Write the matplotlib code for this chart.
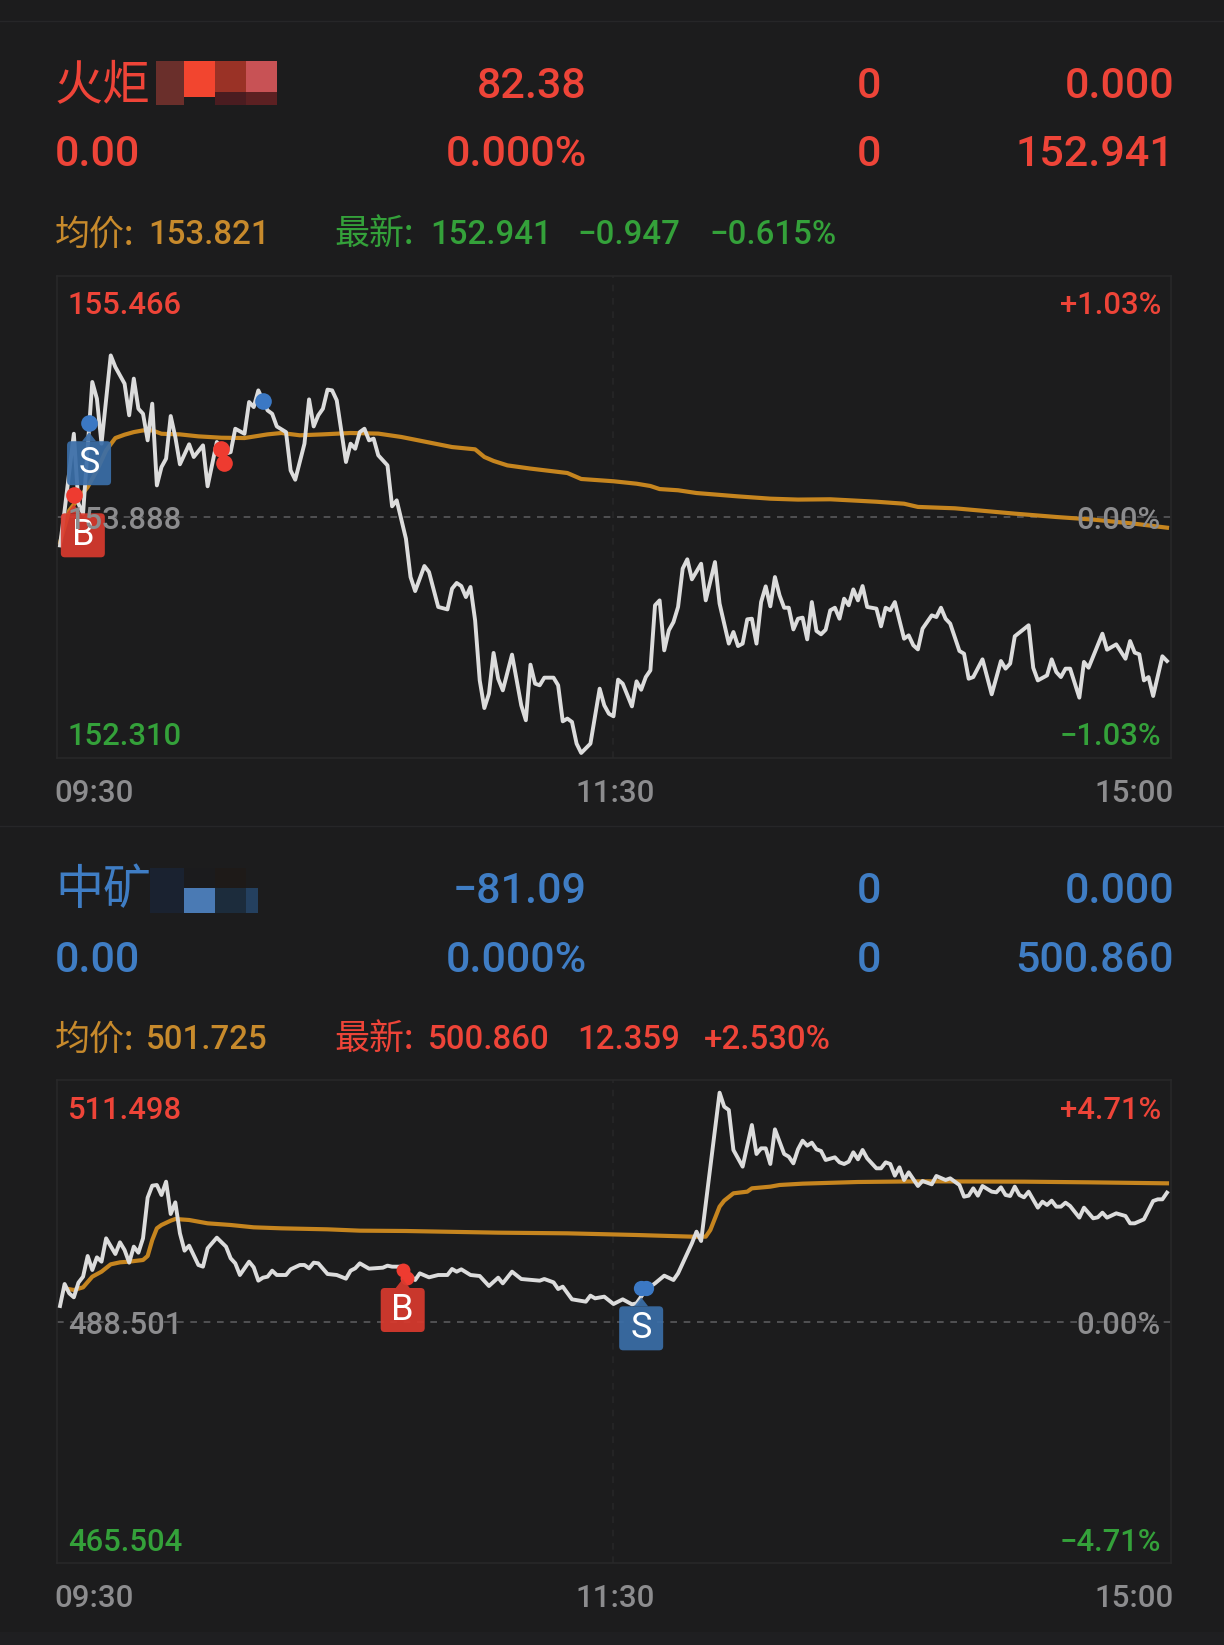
import matplotlib
matplotlib.use("Agg")
import matplotlib.pyplot as plt
from matplotlib.patches import FancyBboxPatch, Polygon, Rectangle
from matplotlib.transforms import Affine2D, IdentityTransform

W, H = 1224, 1645
plt.rcParams['font.family'] = ['Roboto', 'Noto Sans CJK SC', 'DejaVu Sans']

BG = '#1c1c1d'
RED = '#ee4438'
BLUE = '#3f7dc4'
GREEN = '#34a13a'
GOLD = '#c78a2c'
GRAY = '#8c8c8e'

# upper chart, minutes after 09:30 and prices
t1 = [0, 1, 3, 4, 5, 7, 8, 9, 11, 12, 14, 15, 16, 17, 18, 19, 20, 21, 22, 23, 24, 25, 26, 28, 29, 31, 32, 34, 36, 37,
      38, 40, 41, 42, 43, 45, 46, 47, 49, 50, 51, 53, 54, 55, 56, 57, 58, 59, 60, 62, 63, 64, 65, 66, 67, 68, 69, 71,
      72, 73, 75, 76, 77, 79, 80, 82, 84, 85, 86, 87, 88, 89, 90, 91, 92, 93, 94, 95, 96, 98, 100, 101, 102, 103, 104,
      105, 107, 108, 109, 110, 111, 112, 113, 115, 117, 118, 119, 120, 121, 122, 124, 125, 126, 127, 128, 129, 130,
      131, 132, 133, 134, 135, 136, 137, 139, 140, 142, 143, 145, 146, 147, 148, 149, 150, 151, 152, 153, 154, 155,
      156, 157, 158, 159, 160, 161, 162, 163, 164, 165, 166, 167, 168, 169, 170, 171, 172, 173, 174, 175, 177, 178,
      179, 180, 181, 183, 184, 185, 186, 187, 189, 190, 191, 192, 193, 195, 196, 197, 198, 200, 202, 204, 205, 206,
      207, 210, 211, 212, 214, 215, 216, 217, 218, 219, 221, 222, 223, 226, 227, 229, 231, 232, 233, 234, 235, 236,
      237, 239, 240]
p1 = [153.702, 153.931, 154.433, 153.975, 153.910, 154.772, 154.663, 154.368, 154.946, 154.870, 154.761, 154.554,
      154.794, 154.597, 154.564, 154.390, 154.630, 154.095, 154.215, 154.270, 154.549, 154.412, 154.233, 154.364,
      154.281, 154.357, 154.089, 154.379, 154.303, 154.313, 154.466, 154.433, 154.641, 154.608, 154.717, 154.586,
      154.564, 154.481, 154.444, 154.193, 154.132, 154.368, 154.658, 154.481, 154.554, 154.597, 154.722, 154.717,
      154.652, 154.248, 154.368, 154.335, 154.444, 154.466, 154.390, 154.401, 154.292, 154.226, 153.958, 153.997,
      153.746, 153.495, 153.403, 153.567, 153.528, 153.299, 153.283, 153.419, 153.456, 153.436, 153.364, 153.430,
      153.211, 152.818, 152.637, 152.731, 152.998, 152.829, 152.753, 152.987, 152.655, 152.557, 152.921, 152.797,
      152.786, 152.836, 152.836, 152.786, 152.550, 152.568, 152.546, 152.404, 152.343, 152.404, 152.764, 152.655,
      152.600, 152.583, 152.823, 152.797, 152.648, 152.812, 152.757, 152.840, 152.884, 153.310, 153.342, 153.015,
      153.146, 153.200, 153.299, 153.550, 153.611, 153.480, 153.582, 153.342, 153.593, 153.321, 153.059, 153.135,
      153.043, 153.059, 153.218, 153.222, 153.059, 153.331, 153.434, 153.303, 153.495, 153.375, 153.294, 153.294,
      153.152, 153.222, 153.229, 153.087, 153.331, 153.142, 153.120, 153.150, 153.277, 153.294, 153.222, 153.353,
      153.310, 153.414, 153.342, 153.436, 153.299, 153.288, 153.172, 153.294, 153.277, 153.331, 153.091, 153.113,
      153.048, 153.021, 153.157, 153.244, 153.233, 153.294, 153.222, 153.190, 153.011, 152.993, 152.829, 152.840,
      152.956, 152.727, 152.945, 152.895, 152.928, 153.107, 153.179, 152.901, 152.818, 152.851, 152.956, 152.873,
      152.840, 152.895, 152.895, 152.705, 152.939, 152.901, 153.124, 153.019, 153.054, 152.960, 153.076, 153.000,
      152.989, 152.818, 152.840, 152.716, 152.976, 152.945]

avg_t1 = [0, 2, 6, 8, 10, 12, 14, 16, 18, 20, 22, 26, 30, 35, 40, 45, 48, 52, 57, 63, 69, 74, 77, 85, 90, 92, 94, 97,
          102, 110, 113, 120, 125, 128, 130, 134, 138, 147, 154, 160, 167, 177, 183, 186, 194, 207, 216, 224, 233, 240]
avg_p1 = [153.720, 153.931, 154.084, 154.193, 154.324, 154.405, 154.427, 154.444, 154.455, 154.455, 154.433, 154.429,
          154.416, 154.407, 154.405, 154.429, 154.438, 154.423, 154.429, 154.438, 154.434, 154.412, 154.394, 154.346,
          154.331, 154.281, 154.255, 154.226, 154.205, 154.176, 154.137, 154.122, 154.106, 154.091, 154.071, 154.063,
          154.045, 154.023, 154.008, 154.002, 154.004, 153.988, 153.975, 153.954, 153.945, 153.910, 153.888, 153.871,
          153.844, 153.818]

# lower chart
t2 = [0, 1, 2, 3, 4, 5, 6, 7, 8, 9, 10, 12, 13, 14, 15, 16, 17, 18, 19, 20, 21, 22, 23, 24, 25, 26, 27, 28, 30, 31, 32,
      34, 36, 37, 38, 39, 41, 42, 43, 44, 45, 46, 47, 49, 50, 52, 53, 54, 55, 56, 58, 60, 62, 63, 64, 65, 67, 70, 71,
      72, 74, 77, 78, 80, 82, 84, 85, 86, 87, 89, 91, 93, 95, 96, 98, 100, 104, 105, 107, 108, 109, 111, 114, 115, 116,
      118, 120, 122, 124, 125, 127, 129, 131, 133, 134, 137, 138, 139, 143, 144, 145, 146, 148, 150, 151, 152, 153,
      154, 155, 157, 158, 159, 160, 161, 162, 163, 164, 165, 166, 168, 169, 170, 171, 172, 173, 174, 175, 177, 178,
      179, 180, 181, 182, 183, 184, 186, 187, 189, 190, 192, 193, 195, 196, 197, 198, 199, 200, 202, 203, 204, 205,
      206, 207, 208, 209, 210, 212, 213, 214, 215, 216, 217, 218, 219, 221, 222, 224, 225, 226, 227, 229, 231, 232,
      233, 235, 237, 238, 239, 240]
p2 = [489.977, 492.072, 491.184, 490.803, 492.199, 492.770, 494.739, 493.406, 494.612, 494.199, 496.421, 494.929,
      496.040, 495.310, 494.104, 495.628, 495.056, 496.421, 500.294, 501.436, 501.500, 500.548, 501.817, 498.738,
      499.849, 496.897, 495.247, 495.723, 493.882, 493.723, 495.469, 496.485, 495.628, 494.517, 494.041, 492.929,
      494.199, 493.659, 492.390, 492.675, 492.770, 493.342, 492.929, 492.929, 493.469, 493.882, 493.882, 493.564,
      494.104, 494.041, 493.024, 492.929, 492.580, 493.342, 493.564, 494.041, 493.532, 493.627, 493.818, 493.723,
      493.720, 492.453, 493.087, 492.707, 492.929, 492.929, 493.500, 493.246, 493.468, 492.929, 492.834, 491.881,
      492.675, 492.135, 493.246, 492.548, 492.389, 492.548, 492.230, 491.596, 491.817, 490.612, 490.389, 490.961,
      490.707, 490.866, 490.167, 490.612, 490.135, 490.231, 491.501, 492.135, 492.865, 492.453, 493.087, 495.945,
      497.056, 496.167, 510.293, 508.960, 508.642, 504.833, 503.246, 507.214, 504.452, 504.992, 504.992, 503.500,
      506.801, 504.452, 504.198, 503.563, 504.896, 505.722, 505.246, 505.531, 504.896, 504.738, 503.881, 504.135,
      503.658, 503.500, 503.722, 504.611, 503.944, 504.833, 504.039, 503.087, 503.087, 503.658, 503.500, 502.389,
      503.182, 501.976, 502.706, 501.405, 501.881, 501.563, 502.357, 501.976, 502.135, 501.500, 500.389, 500.484,
      501.182, 500.484, 501.405, 500.865, 500.802, 501.278, 500.548, 500.453, 501.341, 500.548, 500.325, 500.865,
      499.341, 499.913, 499.595, 500.008, 499.437, 499.437, 499.818, 499.500, 498.389, 499.341, 498.326, 498.421,
      498.865, 498.389, 498.802, 498.548, 497.849, 497.849, 498.230, 499.976, 500.135, 500.135, 500.770]

avg_t2 = [1, 3, 5, 7, 9, 11, 13, 15, 18, 19, 20, 21, 22, 24, 25, 28, 32, 37, 42, 48, 58, 65, 75, 95, 110, 125, 137,
          140, 141, 143, 144, 146, 149, 150, 154, 156, 161, 173, 187, 209, 223, 240]
avg_p2 = [491.660, 491.501, 491.755, 492.770, 493.247, 493.945, 494.136, 494.199, 494.358, 494.739, 496.262, 497.373,
          497.691, 498.104, 498.262, 498.167, 497.850, 497.691, 497.469, 497.373, 497.278, 497.151, 497.119, 496.960,
          496.897, 496.738, 496.580, 496.580, 497.214, 499.437, 500.008, 500.707, 500.865, 501.182, 501.341, 501.500,
          501.627, 501.786, 501.849, 501.817, 501.754, 501.659]

range1 = [152.310, 153.888, 155.466]
range2 = [465.504, 488.501, 511.498]
time_labels = ['09:30', '11:30', '15:00']

# trade marks: minute, price
buy1 = [(3, 154.030), (35, 154.331), (35.6, 154.240)]
sell1 = [(6.3, 154.502), (44, 154.646)]
buy2 = [(74.3, 493.405), (75.3, 492.610)]
sell2 = [(126, 491.660), (127, 491.660)]


def txt(x, yc, s, color, px_size, ha='left'):
    # yc is the middle of the digits in image pixels, digits have some side bearing
    base = yc + 0.355 * px_size
    x = x + 2 if ha == 'right' else x - 2
    return fig.text(x / W, 1 - base / H, s, color=color, fontsize=px_size * 0.72, ha=ha, va='baseline',
                    fontweight='medium')


def box(x0, y0, x1, y1, color):
    fig.add_artist(Rectangle((x0 / W, 1 - y1 / H), (x1 - x0) / W, (y1 - y0) / H, fc=color, ec='none',
                             transform=fig.transFigure))


def tag(ax, minute, price, letter, color, shift=0):
    x, y = ax.transData.transform((minute, price))
    cx = x + shift
    top = y - 18
    ax.add_patch(Polygon([(x - 7, top), (x + 7, top), (x, top + 9)], closed=True, fc=color, ec='none', alpha=0.92,
                         transform=IdentityTransform(), zorder=5, clip_on=False))
    ax.add_patch(FancyBboxPatch((cx - 20, top - 42), 40, 40, boxstyle='round,pad=2,rounding_size=4', fc=color,
                                ec='none', alpha=0.92, transform=IdentityTransform(), zorder=5, clip_on=False))
    ax.text(cx, top - 22, letter, color='white', fontsize=26, ha='center', va='center', zorder=6,
            transform=IdentityTransform())


def panel(top, bottom, t, p, avg_t, avg_p, prng):
    ax = fig.add_axes([57 / W, 1 - bottom / H, (1171 - 57) / W, (bottom - top) / H])
    ax.set_facecolor(BG)
    ax.set_xlim(-0.65, 240.87)
    ax.set_ylim(prng[0], prng[2])
    for s in ax.spines.values():
        s.set_color('#282829')
        s.set_linewidth(1.2)
    ax.set_yticks([])
    ax.set_xticks([-0.65, 120, 240.87])
    ax.set_xticklabels(time_labels, color=GRAY, fontsize=22.5, fontweight='medium')
    ax.tick_params(axis='x', length=0, pad=15)
    labs = ax.get_xticklabels()
    labs[0].set_ha('left')
    labs[2].set_ha('right')
    for lab, dx in zip(labs, (-3, 2, 3)):
        lab.set_transform(lab.get_transform() + Affine2D().translate(dx, 0))
    ax.axhline(prng[1], color='#5a5a5c', lw=1.2, ls=(0, (4, 4)), zorder=1)
    ax.axvline(120, color='#262627', lw=1.2, ls=(0, (4, 4)), zorder=1)
    ax.plot(avg_t, avg_p, color='#c6851f', lw=3, zorder=2, solid_joinstyle='round')
    ax.plot(t, p, color='#dcdcdc', lw=2.8, zorder=3, solid_joinstyle='round')
    return ax


fig = plt.figure(figsize=(W / 100, H / 100), dpi=100, facecolor=BG)

# header rows of upper chart
txt(57, 83, '火炬', RED, 48)
txt(585, 83, '82.38', RED, 43, 'right')
txt(879, 83, '0', RED, 43, 'right')
txt(1172, 83, '0.000', RED, 43, 'right')
txt(57, 151, '0.00', RED, 43)
txt(585, 151, '0.000%', RED, 43, 'right')
txt(879, 151, '0', RED, 43, 'right')
txt(1172, 151, '152.941', RED, 43, 'right')
txt(57, 232, '均价:', GOLD, 35)
txt(150, 232, '153.821', GOLD, 33)
txt(336, 232, '最新:', GREEN, 35)
txt(432, 232, '152.941', GREEN, 33)
txt(579, 232, '−0.947', GREEN, 33)
txt(711, 232, '−0.615%', GREEN, 33)

# header rows of lower chart
txt(57, 887, '中矿', BLUE, 48)
txt(585, 888, '−81.09', BLUE, 43, 'right')
txt(879, 888, '0', BLUE, 43, 'right')
txt(1172, 888, '0.000', BLUE, 43, 'right')
txt(57, 957, '0.00', BLUE, 43)
txt(585, 957, '0.000%', BLUE, 43, 'right')
txt(879, 957, '0', BLUE, 43, 'right')
txt(1172, 957, '500.860', BLUE, 43, 'right')
txt(57, 1037, '均价:', GOLD, 35)
txt(148, 1037, '501.725', GOLD, 33)
txt(336, 1037, '最新:', RED, 35)
txt(430, 1037, '500.860', RED, 33)
txt(579, 1037, '12.359', RED, 33)
txt(706, 1037, '+2.530%', RED, 33)

# blurred part of the names
box(156, 61, 184, 105, '#6a2f2b')
box(184, 61, 215, 97, '#f2452f')
box(215, 61, 246, 92, '#9a3226')
box(246, 61, 277, 92, '#c85255')
box(215, 92, 246, 105, '#4a1c20')
box(246, 92, 277, 105, '#5c2022')
box(150, 868, 184, 913, '#1a2230')
box(184, 868, 215, 888, '#1b1b1d')
box(184, 888, 215, 913, '#4a7ab4')
box(215, 868, 246, 888, '#1e1a18')
box(215, 888, 246, 913, '#1c2c3c')
box(246, 888, 258, 913, '#24405f')

# thin separators
for yy in (21, 826):
    fig.add_artist(plt.Line2D([0, 1], [1 - yy / H, 1 - yy / H], color='#262628', lw=1))
box(0, 1632, W, 1645, '#1f1f21')

ax1 = panel(276, 758, t1, p1, avg_t1, avg_p1, range1)
for m, v in buy1:
    ax1.plot(m, v, 'o', color='#ee3b30', ms=12, mec='none', zorder=4)
for m, v in sell1:
    ax1.plot(m, v, 'o', color='#3b78c4', ms=12, mec='none', zorder=4)
tag(ax1, buy1[0][0], buy1[0][1], 'B', '#d93a2e', shift=9)
tag(ax1, sell1[0][0], sell1[0][1], 'S', '#3a6ea8')

ax2 = panel(1080, 1563, t2, p2, avg_t2, avg_p2, range2)
for m, v in buy2:
    ax2.plot(m, v, 'o', color='#ee3b30', ms=10, mec='none', zorder=4)
for m, v in sell2:
    ax2.plot(m, v, 'o', color='#3b78c4', ms=11, mec='none', zorder=4)
tag(ax2, buy2[0][0], buy2[0][1], 'B', '#d93a2e')
tag(ax2, sell2[0][0], sell2[0][1], 'S', '#3a6ea8')

# price and percent labels inside the panels
txt(70, 303, '155.466', RED, 31)
txt(1159, 303, '+1.03%', RED, 31, 'right')
txt(70, 518, '153.888', GRAY, 31)
txt(1159, 518, '0.00%', GRAY, 31, 'right')
txt(70, 734, '152.310', GREEN, 31)
txt(1159, 734, '−1.03%', GREEN, 31, 'right')
txt(70, 1108, '511.498', RED, 31)
txt(1159, 1108, '+4.71%', RED, 31, 'right')
txt(70, 1323, '488.501', GRAY, 31)
txt(1159, 1323, '0.00%', GRAY, 31, 'right')
txt(70, 1540, '465.504', GREEN, 31)
txt(1159, 1540, '−4.71%', GREEN, 31, 'right')

fig.savefig('out.png', dpi=100, facecolor=BG)
